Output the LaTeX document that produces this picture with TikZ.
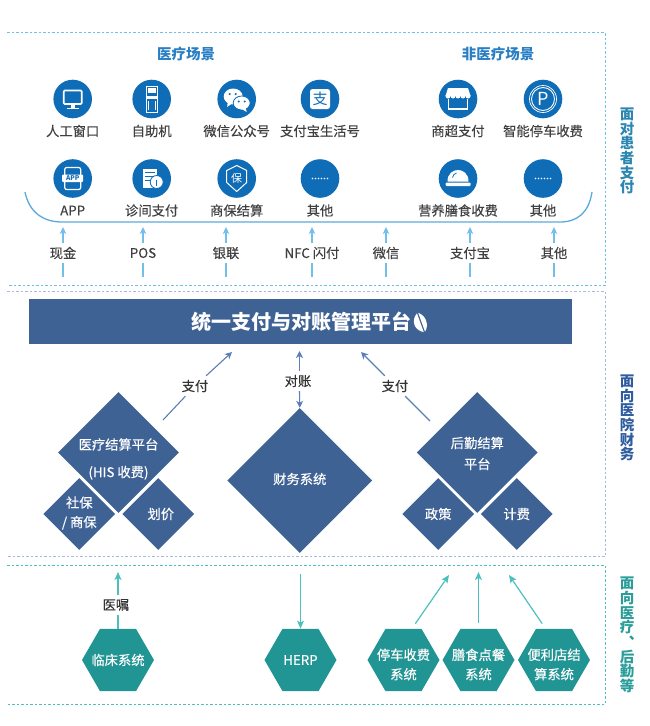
\documentclass[tikz,border=0pt]{standalone}
\usepackage{fontspec}
\setmainfont{Noto Sans CJK SC}
\newfontfamily\labelfont[FakeBold=0.25]{Noto Sans CJK SC}
\usetikzlibrary{arrows.meta,shapes.geometric}

\definecolor{iconblue}{HTML}{0F6CB6}
\definecolor{titleblue}{HTML}{2A7FC4}
\definecolor{sideblue}{HTML}{2B86B0}
\definecolor{paylight}{HTML}{74BFEA}
\definecolor{curveblue}{HTML}{5BA9DC}
\definecolor{navy}{HTML}{3F6295}
\definecolor{sidenavy}{HTML}{2F5C9E}
\definecolor{midarrow}{HTML}{5B7DB8}
\definecolor{middash}{HTML}{A9B8E0}
\definecolor{tealbox}{HTML}{219594}
\definecolor{tealarrow}{HTML}{4DBFBF}
\definecolor{sideteal}{HTML}{2A9D9A}
\definecolor{labelgray}{HTML}{404040}

\tikzset{
    dashline/.style={line width=0.8pt,dash pattern=on 2.5pt off 2pt},
    iconball/.style={circle,fill=iconblue,minimum size=38.6pt,inner sep=0pt},
    scenelabel/.style={font=\fontsize{13.3}{15}\labelfont,text=labelgray,inner sep=0pt},
    paylabel/.style={scenelabel,minimum height=20pt},
    paytip/.style={-{Stealth[length=7pt,width=6.5pt,inset=2pt]},paylight,line width=1.1pt},
    payline/.style={paylight,line width=1.1pt},
    midtip/.style={-{Stealth[length=7pt,width=7pt,inset=2pt]},midarrow,line width=1.1pt},
    midline/.style={midarrow,line width=1.1pt},
    tealtip/.style={-{Stealth[length=8pt,width=7pt,inset=2pt]},tealarrow,line width=1.2pt},
    bigdiamond/.style={diamond,aspect=1,fill=navy,inner sep=0pt,minimum width=#1,minimum height=#1},
    hexbox/.style={regular polygon,regular polygon sides=6,fill=tealbox,inner sep=0pt,minimum size=72pt},
    boxtext/.style={text=white,align=center,inner sep=0pt,font=\fontsize{13.3}{19.5}\labelfont},
    sidelabel/.style={align=center,inner sep=0pt,font=\fontsize{14.5}{14.7}\selectfont\bfseries},
    scenetitle/.style={font=\fontsize{14.5}{17}\selectfont\bfseries,text=titleblue,inner sep=0pt},
}

\begin{document}
\begin{tikzpicture}[x=1pt,y=-1pt]
    \useasboundingbox (0,0) rectangle (649,726);

    % three bands
    \draw[dashline,paylight] (7,32.5) -- (605,32.5) -- (605,285.5) -- (7,285.5);
    \draw[dashline,middash] (7,291) -- (605,291) -- (605,556.5) -- (7,556.5);
    \draw[dashline,tealarrow] (7,565) -- (605,565) -- (605,704) -- (7,704);

    \node[sidelabel,text=sideblue] (sidepatient) at (627,151) {面\\对\\患\\者\\支\\付};
    \node[sidelabel,text=sidenavy] (sidehospital) at (627,418) {面\\向\\医\\院\\财\\务};
    \node[sidelabel,text=sideteal] (sidelogistics) at (627,635) {面\\向\\医\\疗\\\raisebox{8pt}{\hspace{9pt}、\hspace{-9pt}}\\后\\勤\\等};

    \node[scenetitle] (medtitle) at (186,54) {医疗场景};
    \node[scenetitle] (nonmedtitle) at (498,54) {非医疗场景};

    % icons and their labels
    \foreach \name/\x/\y/\txt in {
        window/72.7/99/人工窗口, kiosk/151.7/99/自助机, wechat/236.7/99/微信公众号,
        alipay/320/99/支付宝生活号, shop/458/99/商超支付, parking/543/99/智能停车收费,
        app/72.7/178.5/APP, clinic/151.7/178.5/诊间支付, insure/236.7/178.5/商保结算,
        other/320/178.5/其他, meal/458/178.5/营养膳食收费, otherb/543/178.5/其他}{
        \node[iconball] (\name) at (\x,\y) {};
        \node[scenelabel] (\name label) at (\x,\y+32) {\txt};
    }

    \begin{scope}[shift={(window.center)}]
        \draw[white,line width=1.6pt,rounded corners=1pt] (-9,-8.5) rectangle (9,5);
        \fill[white] (-2,5) rectangle (2,8.5);
        \fill[white] (-6,8.5) rectangle (6,10);
    \end{scope}
    \begin{scope}[shift={(kiosk.center)}]
        \draw[white,line width=0.9pt] (-5.5,-13) rectangle (5.5,13);
        \fill[white] (-4,-11.5) rectangle (4,-6);
        \fill[white] (-5.5,-3) rectangle (5.5,-0.5);
        \draw[white,line width=0.7pt] (-3.5,2) -- (-3.5,11) (3.5,2) -- (3.5,11);
    \end{scope}
    \begin{scope}[shift={(wechat.center)}]
        \fill[white] (-3.5,-2.5) ellipse [x radius=9.5pt,y radius=8pt];
        \fill[white] (-9,3) -- (-9.5,8) -- (-4,4) -- cycle;
        \draw[white,fill=white,draw=iconblue,line width=0.8pt] (5,4) ellipse [x radius=8.5pt,y radius=7pt];
        \fill[white] (9,9) -- (10,13) -- (5,10) -- cycle;
        \fill[iconblue] (-7,-5) circle[radius=1.2pt] (-1,-5) circle[radius=1.2pt] (2,2.5) circle[radius=1.1pt] (8,2.5) circle[radius=1.1pt];
    \end{scope}
    \begin{scope}[shift={(alipay.center)}]
        \fill[white,rounded corners=2.5pt] (-10,-10) rectangle (10,10);
        \node[text=iconblue,inner sep=0pt,font=\fontsize{15}{15}\selectfont] (alipaymark) at (0,-0.5) {支};
    \end{scope}
    \begin{scope}[shift={(shop.center)}]
        \fill[white] (-10,-11) -- (10,-11) -- (12.5,-3) -- (-12.5,-3) -- cycle;
        \foreach \dx in {-10,-5,0,5,10}
            \fill[white] (\dx,-3) circle[radius=2.5pt];
        \draw[white,line width=1.5pt] (-9.5,0) -- (-9.5,10) -- (9.5,10) -- (9.5,0);
    \end{scope}
    \begin{scope}[shift={(parking.center)}]
        \draw[white,line width=0.7pt] (0,0) circle[radius=13.5pt];
        \draw[white,line width=0.9pt] (0,0) circle[radius=11.5pt];
        \node[text=white,inner sep=0pt,font=\fontsize{18}{18}\selectfont] (parkingmark) at (0,0) {P};
    \end{scope}
    \begin{scope}[shift={(app.center)}]
        \draw[white,line width=1.2pt,rounded corners=2pt] (-8,-11) rectangle (8,11);
        \fill[white,rounded corners=1pt] (-10.5,-4) rectangle (10.5,3.5);
        \node[text=iconblue,inner sep=0pt,font=\fontsize{6.5}{7}\selectfont\bfseries] (appmark) at (0,-0.2) {APP};
    \end{scope}
    \begin{scope}[shift={(clinic.center)}]
        \fill[white] (-9,-10) rectangle (5,9);
        \draw[iconblue,line width=0.8pt] (-7,-6) -- (3,-6) (-7,-2) -- (1,-2) (-7,2) -- (-2,2);
        \draw[iconblue,fill=white,line width=0.8pt] (5,3.5) circle[radius=6.5pt];
        \draw[iconblue,line width=0.8pt] (5,1) -- (5,7);
    \end{scope}
    \begin{scope}[shift={(insure.center)}]
        \draw[white,line width=1pt,line join=round] (0,-13) -- (10,-8) -- (10,4) -- (0,13) -- (-10,4) -- (-10,-8) -- cycle;
        \node[text=white,inner sep=0pt,font=\fontsize{11}{11}\selectfont] (insuremark) at (0,-0.5) {保};
    \end{scope}
    \foreach \name in {other,otherb}
        \foreach \dx in {-7.5,-4.5,-1.5,1.5,4.5,7.5}
            \fill[white] (\name.center) ++(\dx,0) circle[radius=0.9pt];
    \begin{scope}[shift={(meal.center)}]
        \fill[white] (-10.5,3) .. controls (-10.5,-5) and (-5,-8.5) .. (0,-8.5) .. controls (5,-8.5) and (10.5,-5) .. (10.5,3) -- cycle;
        \fill[white,rounded corners=1pt] (-12.5,4) rectangle (12.5,7.5);
        \draw[iconblue,line width=0.8pt] (-5.5,-1) .. controls (-5,-3.5) and (-3.5,-5) .. (-1.5,-5.5);
    \end{scope}

    \draw[curveblue,line width=1.3pt] (25,192) .. controls (29,212) and (43,222) .. (62,222) -- (560,222) .. controls (578,222) and (589,212) .. (592,192);

    % payment methods under the curve
    \foreach \name/\x/\txt in {cash/63/现金, pos/143/POS, union/226/银联, nfc/312/NFC 闪付, wx/386/微信, zfb/470/支付宝, more/554/其他}{
        \coordinate (\name from) at (\x,277);
        \coordinate (\name to) at (\x,227);
        \node[paylabel] (\name) at (\x,253) {\txt};
        \draw[payline] (\name from) -- (\name);
        \draw[paytip] (\name) -- (\name to);
    }

    % platform
    \node[fill=navy,minimum width=543pt,minimum height=45pt,inner sep=0pt] (platform) at (300.8,321.8) {};
    \node[text=white,inner sep=0pt,font=\fontsize{20}{22}\selectfont\bfseries] (platformtext) at (301,322) {统一支付与对账管理平台};
    \begin{scope}[shift={(421,322.5)},rotate=20]
        \fill[white] (-0.7,-10) .. controls (-9,-5) and (-9,5) .. (-0.7,10) -- cycle;
        \fill[white] (0.7,-10) .. controls (7,-5) and (7,5) .. (0.7,10) -- cycle;
    \end{scope}

    % hospital finance
    \node[bigdiamond=121pt,label={[boxtext,yshift=-6.5pt,font=\fontsize{13.3}{27.5}\labelfont]center:医疗结算平台\\(HIS 收费)}] (hisplat) at (118.5,452.5) {};
    \node[bigdiamond=72pt,label={[boxtext,yshift=1pt]center:社保\\/ 商保}] (social) at (79.3,514) {};
    \node[bigdiamond=72pt,label={[boxtext,xshift=2.5pt]center:划价}] (pricing) at (158.3,514) {};
    \node[bigdiamond=145pt,label={[boxtext,yshift=1.5pt]center:财务系统}] (finance) at (299.8,480.5) {};
    \node[bigdiamond=121pt,label={[boxtext,yshift=-1pt,font=\fontsize{13.3}{21}\labelfont]center:后勤结算\\平台}] (backplat) at (477.3,452.5) {};
    \node[bigdiamond=72pt,label={[boxtext]center:政策}] (policy) at (438.2,514) {};
    \node[bigdiamond=72pt,label={[boxtext]center:计费}] (billing) at (516.7,514) {};

    \coordinate (payleftfrom) at (163,420);
    \coordinate (paylefttop) at (232,352);
    \coordinate (payrightfrom) at (430,421);
    \coordinate (payrighttop) at (361,352);
    \coordinate (checktop) at (299.5,351);
    \node[paylabel,text=black!80] (payleft) at (195,386) {支付};
    \node[paylabel,text=black!80] (payright) at (395,386) {支付};
    \node[paylabel,text=black!80] (check) at (298,381) {对账};
    \draw[midline] (payleftfrom) -- (payleft);
    \draw[midtip] (payleft) -- (paylefttop);
    \draw[midline] (payrightfrom) -- (payright);
    \draw[midtip] (payright) -- (payrighttop);
    \draw[midtip] (check.north -| checktop) -- (checktop);
    \draw[midtip] (check.south -| checktop) -- (finance.north);

    % clinical and logistics systems
    \node[hexbox,label={[boxtext]center:临床系统}] (linchuang) at (118,660) {};
    \node[hexbox,label={[boxtext]center:HERP}] (herp) at (300.5,660) {};
    \node[hexbox,label={[boxtext,yshift=-4.5pt]center:停车收费\\系统}] (park) at (403.5,660) {};
    \node[hexbox,label={[boxtext,yshift=-4.5pt]center:膳食点餐\\系统}] (canteen) at (478.5,660) {};
    \node[hexbox,label={[boxtext,yshift=-4.5pt]center:便利店结\\算系统}] (store) at (554,660) {};

    \coordinate (yizhutop) at (118,572);
    \coordinate (herptop) at (300.5,574);
    \coordinate (parktop) at (449,575);
    \coordinate (canteentop) at (478.5,572);
    \coordinate (storetop) at (509,575);
    \node[paylabel,text=black!80] (yizhu) at (116,605) {医嘱};
    \draw[tealarrow,line width=1.2pt] (linchuang) -- (yizhu.south -| linchuang);
    \draw[tealtip] (yizhu.north -| linchuang) -- (yizhutop);
    \draw[tealtip] (herptop) -- (herp);
    \draw[tealtip,shorten <=6pt] (park.75) -- (parktop);
    \draw[tealtip,shorten <=6pt] (canteen) -- (canteentop);
    \draw[tealtip,shorten <=6pt] (store.105) -- (storetop);
\end{tikzpicture}
\end{document}
